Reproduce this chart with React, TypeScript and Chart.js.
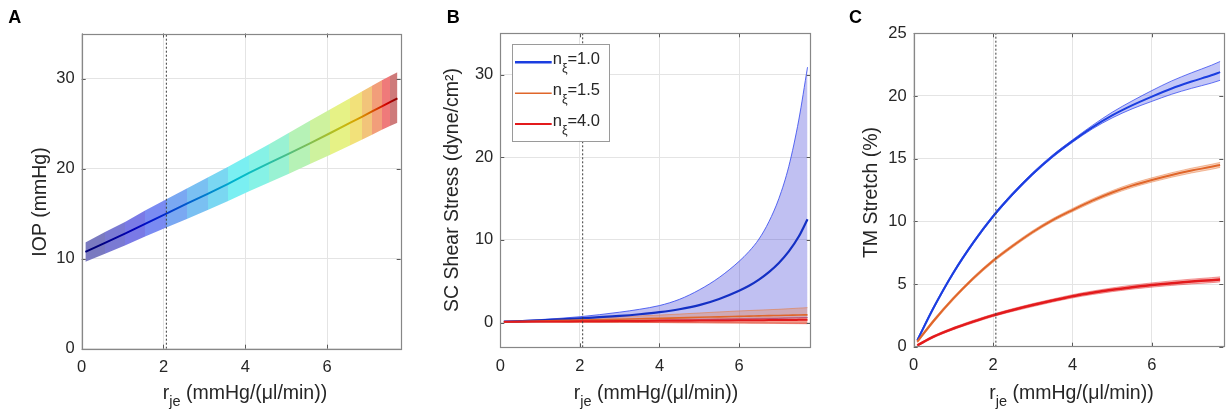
import React, { useEffect, useRef } from 'react';
import { Chart, registerables } from 'chart.js';

Chart.register(...registerables);

// ---------------- data ----------------
const X_TICKS = [0, 2, 4, 6];
const X_MIN = 0;
const X_MAX = 7.8;
const REF_RJE = 2.07; // dotted reference line

// Panel A: IOP vs r_je (band + centre line)
const A_X = [0.09, 0.57, 1.07, 1.55, 2.07, 2.57, 3.08, 3.58, 4.08, 4.58, 5.08, 5.58, 6.08, 6.57, 6.85, 7.1, 7.34, 7.55, 7.72];
const A_IOP = [10.75, 11.75, 12.8, 13.85, 15.0, 16.1, 17.2, 18.3, 19.5, 20.6, 21.7, 22.8, 23.95, 25.1, 25.75, 26.35, 26.9, 27.4, 27.8];
const A_IOP_HI = [11.8, 12.95, 14.1, 15.35, 16.6, 17.8, 19.0, 20.2, 21.45, 22.7, 24.0, 25.3, 26.6, 27.85, 28.55, 29.2, 29.8, 30.3, 30.7];
const A_IOP_LO = [9.65, 10.55, 11.5, 12.45, 13.45, 14.4, 15.4, 16.4, 17.45, 18.45, 19.45, 20.5, 21.55, 22.6, 23.2, 23.75, 24.3, 24.75, 25.1];
const A_Y_TICKS = [0, 10, 20, 30];

// Panel B: SC shear stress
const B_X = [0.09, 1, 2, 3, 3.5, 4, 4.5, 5, 5.5, 6, 6.25, 6.5, 6.75, 7, 7.25, 7.5, 7.72];
const B_N10 = [0.1, 0.25, 0.5, 0.8, 1.0, 1.25, 1.6, 2.1, 2.85, 3.85, 4.45, 5.2, 6.1, 7.2, 8.6, 10.4, 12.5];
const B_N10_HI = [0.12, 0.35, 0.7, 1.25, 1.6, 2.05, 2.8, 3.95, 5.45, 7.4, 8.6, 10.1, 12.2, 15.0, 18.9, 24.5, 30.9];
const B_N10_LO = [0.08, 0.1, 0.15, 0.2, 0.22, 0.25, 0.28, 0.32, 0.36, 0.4, 0.42, 0.45, 0.47, 0.5, 0.54, 0.57, 0.6];
const B_N15 = [0.08, 0.18, 0.3, 0.4, 0.45, 0.5, 0.56, 0.63, 0.68, 0.74, 0.77, 0.8, 0.83, 0.85, 0.88, 0.91, 0.93];
const B_N15_HI = [0.1, 0.3, 0.5, 0.7, 0.8, 0.9, 1.02, 1.15, 1.28, 1.4, 1.45, 1.5, 1.55, 1.6, 1.67, 1.74, 1.8];
const B_N15_LO = [0.06, 0.05, 0.03, 0.01, 0.0, -0.01, -0.02, -0.03, -0.05, -0.06, -0.065, -0.07, -0.075, -0.08, -0.09, -0.1, -0.1];
const B_N40 = [0.08, 0.11, 0.14, 0.17, 0.185, 0.2, 0.22, 0.23, 0.25, 0.26, 0.27, 0.28, 0.29, 0.3, 0.31, 0.32, 0.33];
const B_N40_HI = [0.1, 0.15, 0.22, 0.28, 0.31, 0.34, 0.38, 0.41, 0.45, 0.48, 0.5, 0.52, 0.54, 0.55, 0.57, 0.59, 0.6];
const B_N40_LO = [0.06, 0.05, 0.04, 0.02, 0.01, 0.0, -0.02, -0.03, -0.05, -0.07, -0.08, -0.09, -0.1, -0.11, -0.13, -0.14, -0.15];
const B_Y_TICKS = [0, 10, 20, 30];

// Panel C: TM stretch
const C_X = [0.09, 0.5, 1, 1.5, 2, 2.5, 3, 3.5, 4, 4.5, 5, 5.5, 6, 6.5, 7, 7.5, 7.72];
const C_N10 = [0.5, 3.1, 5.9, 8.3, 10.4, 12.2, 13.8, 15.2, 16.4, 17.5, 18.45, 19.25, 19.95, 20.6, 21.15, 21.65, 21.9];
const C_N10_HI = [0.6, 3.2, 6.0, 8.4, 10.5, 12.3, 13.9, 15.3, 16.5, 17.65, 18.7, 19.6, 20.43, 21.2, 21.85, 22.45, 22.75];
const C_N10_LO = [0.4, 3.0, 5.8, 8.2, 10.3, 12.1, 13.7, 15.1, 16.3, 17.37, 18.25, 18.97, 19.57, 20.14, 20.61, 21.03, 21.25];
const C_N15 = [0.4, 2.05, 3.85, 5.45, 6.85, 8.05, 9.15, 10.1, 10.9, 11.65, 12.3, 12.85, 13.3, 13.7, 14.05, 14.35, 14.5];
const C_N15_HI = [0.5, 2.17, 3.97, 5.57, 6.97, 8.17, 9.27, 10.22, 11.03, 11.79, 12.45, 13.01, 13.47, 13.88, 14.24, 14.55, 14.7];
const C_N15_LO = [0.3, 1.93, 3.73, 5.33, 6.73, 7.93, 9.03, 9.98, 10.77, 11.51, 12.15, 12.69, 13.13, 13.52, 13.86, 14.15, 14.3];
const C_N40 = [0.1, 0.8, 1.45, 2.0, 2.5, 2.93, 3.32, 3.68, 4.02, 4.3, 4.54, 4.75, 4.92, 5.07, 5.2, 5.31, 5.37];
const C_N40_HI = [0.16, 0.88, 1.54, 2.1, 2.6, 3.04, 3.44, 3.8, 4.15, 4.44, 4.69, 4.91, 5.09, 5.25, 5.39, 5.51, 5.57];
const C_N40_LO = [0.04, 0.72, 1.36, 1.9, 2.4, 2.82, 3.2, 3.56, 3.89, 4.16, 4.39, 4.59, 4.75, 4.89, 5.01, 5.11, 5.17];
const C_Y_TICKS = [0, 5, 10, 15, 20, 25];

const N_LABELS = ['1.0', '1.5', '4.0'];
const X_TITLE_MAIN = 'r';
const X_TITLE_SUB = 'je';
const X_TITLE_REST = ' (mmHg/(\u03bcl/min))';

// ---------------- styles ----------------
const FONT = '"Liberation Sans", Arial, Helvetica, sans-serif';
const TEXT = '#262626';
const GRID = '#e4e4e4';
const FRAME = '#878787';
const TICKMARK = '#5a5a5a';
const BLUE = '#1b3ee0';
const BLUE_DARK = '#1430c4';
const ORANGE = '#e0662a';
const RED = '#e31a1c';
// jet-colormap positions for each segment of panel A's band
const A_JET_T = [0.02, 0.06, 0.1, 0.16, 0.22, 0.27, 0.32, 0.37, 0.4, 0.44, 0.5, 0.55, 0.6, 0.66, 0.72, 0.8, 0.88, 0.95];

function jet(t: number): number[] {
  const c = (v: number) => Math.max(0, Math.min(1, v));
  return [c(1.5 - Math.abs(4 * t - 3)), c(1.5 - Math.abs(4 * t - 2)), c(1.5 - Math.abs(4 * t - 1))];
}
const A_FILL = A_JET_T.map((t) => {
  const [r, g, b] = jet(t);
  // pre-blended on white (alpha ~0.52, slightly muted)
  const mix = (v: number) => Math.round(255 * (1 - 0.52) + v * 0.9 * 255 * 0.52);
  return `rgb(${mix(r)},${mix(g)},${mix(b)})`;
});
const A_LINE = A_JET_T.map((t) => {
  const [r, g, b] = jet(t);
  return `rgb(${Math.round(r * 215)},${Math.round(g * 190)},${Math.round(b * 205)})`;
});

type Layout = {
  left: number; right: number; top: number; bottom: number;
  letter: string; letterX: number;
  yTitle: string; yTitleX: number; yTitleY: number;
  xTitleX: number;
};
const W = 410;
const H = 416;

const LAYOUT_A: Layout = { left: 81.7, right: 400.7, top: 33.5, bottom: 348.7, letter: 'A', letterX: 8.3, yTitle: 'IOP (mmHg)', yTitleX: 40.5, yTitleY: 202, xTitleX: 245 };
const LAYOUT_B: Layout = { left: 90.3, right: 400.7, top: 33.3, bottom: 347.3, letter: 'B', letterX: 36.7, yTitle: 'SC Shear Stress (dyne/cm\u00b2)', yTitleX: 42.5, yTitleY: 190, xTitleX: 246 };
const LAYOUT_C: Layout = { left: 93.7, right: 403.3, top: 33.3, bottom: 346.7, letter: 'C', letterX: 29, yTitle: 'TM Stretch (%)', yTitleX: 51.5, yTitleY: 192.5, xTitleX: 251.5 };

const pts = (xs: number[], ys: number[]) => xs.map((x, i) => ({ x, y: ys[i] }));

// horizontal gradient following A_X through the x scale (hard steps for the band, smooth for the line)
function jetGradient(chart: any, colors: string[], hard: boolean): any {
  const area = chart.chartArea;
  const sx = chart.scales && chart.scales.x;
  if (!area || !sx) return colors[0];
  const x0 = area.left;
  const x1 = area.right;
  const g = chart.ctx.createLinearGradient(x0, 0, x1, 0);
  const f = (v: number) => Math.min(1, Math.max(0, (sx.getPixelForValue(v) - x0) / (x1 - x0)));
  for (let i = 0; i < colors.length; i++) {
    if (hard) {
      g.addColorStop(f(A_X[i]), colors[i]);
      g.addColorStop(f(A_X[i + 1]), colors[i]);
    } else {
      g.addColorStop(f((A_X[i] + A_X[i + 1]) / 2), colors[i]);
    }
  }
  return g;
}

function drawXTitle(ctx: CanvasRenderingContext2D, cx: number, baseline: number) {
  const main = `19.5px ${FONT}`;
  const sub = `14.5px ${FONT}`;
  ctx.font = main;
  const w1 = ctx.measureText(X_TITLE_MAIN).width;
  const w3 = ctx.measureText(X_TITLE_REST).width;
  ctx.font = sub;
  const w2 = ctx.measureText(X_TITLE_SUB).width;
  let x = cx - (w1 + w2 + w3) / 2;
  ctx.fillStyle = TEXT;
  ctx.textAlign = 'left';
  ctx.textBaseline = 'alphabetic';
  ctx.font = main;
  ctx.fillText(X_TITLE_MAIN, x, baseline);
  x += w1;
  ctx.font = sub;
  ctx.fillText(X_TITLE_SUB, x, baseline + 7);
  x += w2;
  ctx.font = main;
  ctx.fillText(X_TITLE_REST, x, baseline);
}

function panelPlugin(L: Layout, legend: boolean) {
  return {
    id: 'panel' + L.letter,
    afterDatasetsDraw(chart: any) {
      const ctx: CanvasRenderingContext2D = chart.ctx;
      const a = chart.chartArea;
      const xs = chart.scales.x;
      const ys = chart.scales.y;
      ctx.save();
      ctx.strokeStyle = TICKMARK;
      ctx.lineWidth = 1;
      ctx.beginPath();
      for (const t of xs.ticks) {
        const px = Math.round(xs.getPixelForValue(t.value)) + 0.5;
        ctx.moveTo(px, a.bottom); ctx.lineTo(px, a.bottom - 4);
        ctx.moveTo(px, a.top); ctx.lineTo(px, a.top + 4);
      }
      for (const t of ys.ticks) {
        const py = Math.round(ys.getPixelForValue(t.value)) + 0.5;
        ctx.moveTo(a.left, py); ctx.lineTo(a.left + 4, py);
        ctx.moveTo(a.right, py); ctx.lineTo(a.right - 4, py);
      }
      ctx.stroke();
      ctx.strokeStyle = FRAME;
      ctx.lineWidth = 1.2;
      ctx.strokeRect(Math.round(a.left) + 0.5, Math.round(a.top) + 0.5, Math.round(a.right - a.left), Math.round(a.bottom - a.top));
      ctx.restore();
    },
    afterDraw(chart: any) {
      const ctx: CanvasRenderingContext2D = chart.ctx;
      ctx.save();
      ctx.fillStyle = '#000';
      ctx.font = `bold 18px ${FONT}`;
      ctx.textAlign = 'left';
      ctx.textBaseline = 'alphabetic';
      ctx.fillText(L.letter, L.letterX, 22.7);
      ctx.save();
      ctx.translate(L.yTitleX, L.yTitleY);
      ctx.rotate(-Math.PI / 2);
      ctx.font = `19.5px ${FONT}`;
      ctx.fillStyle = TEXT;
      ctx.textAlign = 'center';
      ctx.textBaseline = 'middle';
      ctx.fillText(L.yTitle, 0, 0);
      ctx.restore();
      drawXTitle(ctx, L.xTitleX, 399);
      if (legend) {
        const bx = 102.3, by = 44, bw = 97, bh = 96.7;
        ctx.fillStyle = '#fff';
        ctx.fillRect(bx, by, bw, bh);
        ctx.strokeStyle = '#9a9a9a';
        ctx.lineWidth = 1;
        ctx.strokeRect(Math.round(bx) + 0.5, Math.round(by) + 0.5, Math.round(bw), Math.round(bh));
        const colors = [BLUE, ORANGE, RED];
        const widths = [2.5, 1.6, 1.8];
        const rows = [62.3, 93.3, 124];
        N_LABELS.forEach((lab, i) => {
          const y = rows[i];
          ctx.strokeStyle = colors[i];
          ctx.lineWidth = widths[i];
          ctx.beginPath();
          ctx.moveTo(105, y);
          ctx.lineTo(141.7, y);
          ctx.stroke();
          ctx.fillStyle = TEXT;
          ctx.textAlign = 'left';
          ctx.textBaseline = 'alphabetic';
          let x = 142.7;
          ctx.font = `16.5px ${FONT}`;
          ctx.fillText('n', x, y + 1.8);
          x += ctx.measureText('n').width;
          ctx.font = `12.5px ${FONT}`;
          ctx.fillText('\u03be', x, y + 10);
          x += ctx.measureText('\u03be').width;
          ctx.font = `16.5px ${FONT}`;
          ctx.fillText('=' + lab, x, y + 1.8);
        });
      }
      ctx.restore();
    },
  };
}

function baseOptions(L: Layout, yMin: number, yMax: number, yTicks: number[]) {
  return {
    responsive: false,
    animation: false as const,
    devicePixelRatio: 1,
    events: [] as any[],
    layout: { padding: { left: 0, top: L.top, right: W - L.right, bottom: 0 } },
    elements: { point: { radius: 0 } },
    plugins: { legend: { display: false }, tooltip: { enabled: false }, title: { display: false } },
    scales: {
      x: {
        type: 'linear' as const,
        min: X_MIN,
        max: X_MAX,
        afterBuildTicks: (s: any) => { s.ticks = X_TICKS.map((v) => ({ value: v })); },
        afterFit: (s: any) => { s.height = H - L.bottom; },
        grid: { color: GRID, lineWidth: 1, drawTicks: false },
        border: { display: false },
        ticks: { color: TEXT, font: { family: FONT, size: 16.5 }, padding: 9, maxRotation: 0 },
      },
      y: {
        type: 'linear' as const,
        min: yMin,
        max: yMax,
        afterBuildTicks: (s: any) => { s.ticks = yTicks.map((v) => ({ value: v })); },
        afterFit: (s: any) => { s.width = L.left; },
        grid: { color: GRID, lineWidth: 1, drawTicks: false },
        border: { display: false },
        ticks: { color: TEXT, font: { family: FONT, size: 16.5 }, padding: 7 },
      },
    },
  };
}

function refLine(yMin: number, yMax: number) {
  return {
    data: [{ x: REF_RJE, y: yMin }, { x: REF_RJE, y: yMax }],
    borderColor: '#3a3a3a',
    borderWidth: 1,
    borderDash: [2, 2],
    pointRadius: 0,
    fill: false,
  };
}

function centre(xs: number[], ys: number[], color: string, width: number) {
  return { data: pts(xs, ys), borderColor: color, borderWidth: width, pointRadius: 0, fill: false, cubicInterpolationMode: 'monotone' as const };
}

function bandPair(xs: number[], hi: number[], lo: number[], hiIndex: number, fillColor: string, edge: string, edgeWidth: number) {
  return [
    { data: pts(xs, hi), borderColor: edge, borderWidth: edgeWidth, pointRadius: 0, fill: false, cubicInterpolationMode: 'monotone' as const },
    { data: pts(xs, lo), borderColor: edge, borderWidth: edgeWidth, pointRadius: 0, fill: { target: hiIndex }, backgroundColor: fillColor, cubicInterpolationMode: 'monotone' as const },
  ];
}

function configA(): any {
  return {
    type: 'line',
    data: {
      datasets: [
        refLine(0, 35),
        {
          data: pts(A_X, A_IOP), borderWidth: 2, pointRadius: 0, fill: false,
          borderColor: (c: any) => jetGradient(c.chart, A_LINE, false),
        },
        { data: pts(A_X, A_IOP_HI), borderWidth: 0, borderColor: 'rgba(0,0,0,0)', pointRadius: 0, fill: false },
        {
          data: pts(A_X, A_IOP_LO), borderWidth: 0, borderColor: 'rgba(0,0,0,0)', pointRadius: 0,
          fill: { target: 2 },
          backgroundColor: (c: any) => jetGradient(c.chart, A_FILL, true),
        },
      ],
    },
    options: baseOptions(LAYOUT_A, 0, 35, A_Y_TICKS),
    plugins: [panelPlugin(LAYOUT_A, false)],
  };
}

function configB(): any {
  return {
    type: 'line',
    data: {
      datasets: [
        refLine(-3, 35),
        centre(B_X, B_N40, RED, 2),
        centre(B_X, B_N15, ORANGE, 1.6),
        centre(B_X, B_N10, BLUE_DARK, 2.2),
        ...bandPair(B_X, B_N40_HI, B_N40_LO, 4, 'rgba(235,50,50,0.35)', 'rgba(230,60,60,0.6)', 0.8),
        ...bandPair(B_X, B_N15_HI, B_N15_LO, 6, 'rgba(235,125,70,0.35)', 'rgba(230,120,60,0.7)', 0.8),
        ...bandPair(B_X, B_N10_HI, B_N10_LO, 8, 'rgba(60,60,215,0.32)', 'rgba(60,80,240,0.85)', 1),
      ],
    },
    options: baseOptions(LAYOUT_B, -3, 35, B_Y_TICKS),
    plugins: [panelPlugin(LAYOUT_B, true)],
  };
}

function configC(): any {
  return {
    type: 'line',
    data: {
      datasets: [
        refLine(0, 25),
        centre(C_X, C_N40, RED, 2.5),
        centre(C_X, C_N15, ORANGE, 2),
        centre(C_X, C_N10, BLUE, 2),
        ...bandPair(C_X, C_N40_HI, C_N40_LO, 4, 'rgba(235,50,50,0.35)', 'rgba(230,60,60,0.6)', 0.8),
        ...bandPair(C_X, C_N15_HI, C_N15_LO, 6, 'rgba(235,125,70,0.35)', 'rgba(230,120,60,0.6)', 0.8),
        ...bandPair(C_X, C_N10_HI, C_N10_LO, 8, 'rgba(60,70,230,0.3)', 'rgba(60,80,240,0.8)', 1),
      ],
    },
    options: baseOptions(LAYOUT_C, 0, 25, C_Y_TICKS),
    plugins: [panelPlugin(LAYOUT_C, false)],
  };
}

export default function App() {
  const refA = useRef<HTMLCanvasElement>(null);
  const refB = useRef<HTMLCanvasElement>(null);
  const refC = useRef<HTMLCanvasElement>(null);

  useEffect(() => {
    const charts = [
      new Chart(refA.current!, configA()),
      new Chart(refB.current!, configB()),
      new Chart(refC.current!, configC()),
    ];
    return () => charts.forEach((c) => c.destroy());
  }, []);

  const cs = (left: number): React.CSSProperties => ({ position: 'absolute', left, top: 0, width: W, height: H });
  return (
    <div style={{ position: 'absolute', left: 0, top: 0, width: 1230, height: 416, background: '#fff', overflow: 'hidden' }}>
      <canvas ref={refA} width={W} height={H} style={cs(0)} />
      <canvas ref={refB} width={W} height={H} style={cs(410)} />
      <canvas ref={refC} width={W} height={H} style={cs(820)} />
    </div>
  );
}
